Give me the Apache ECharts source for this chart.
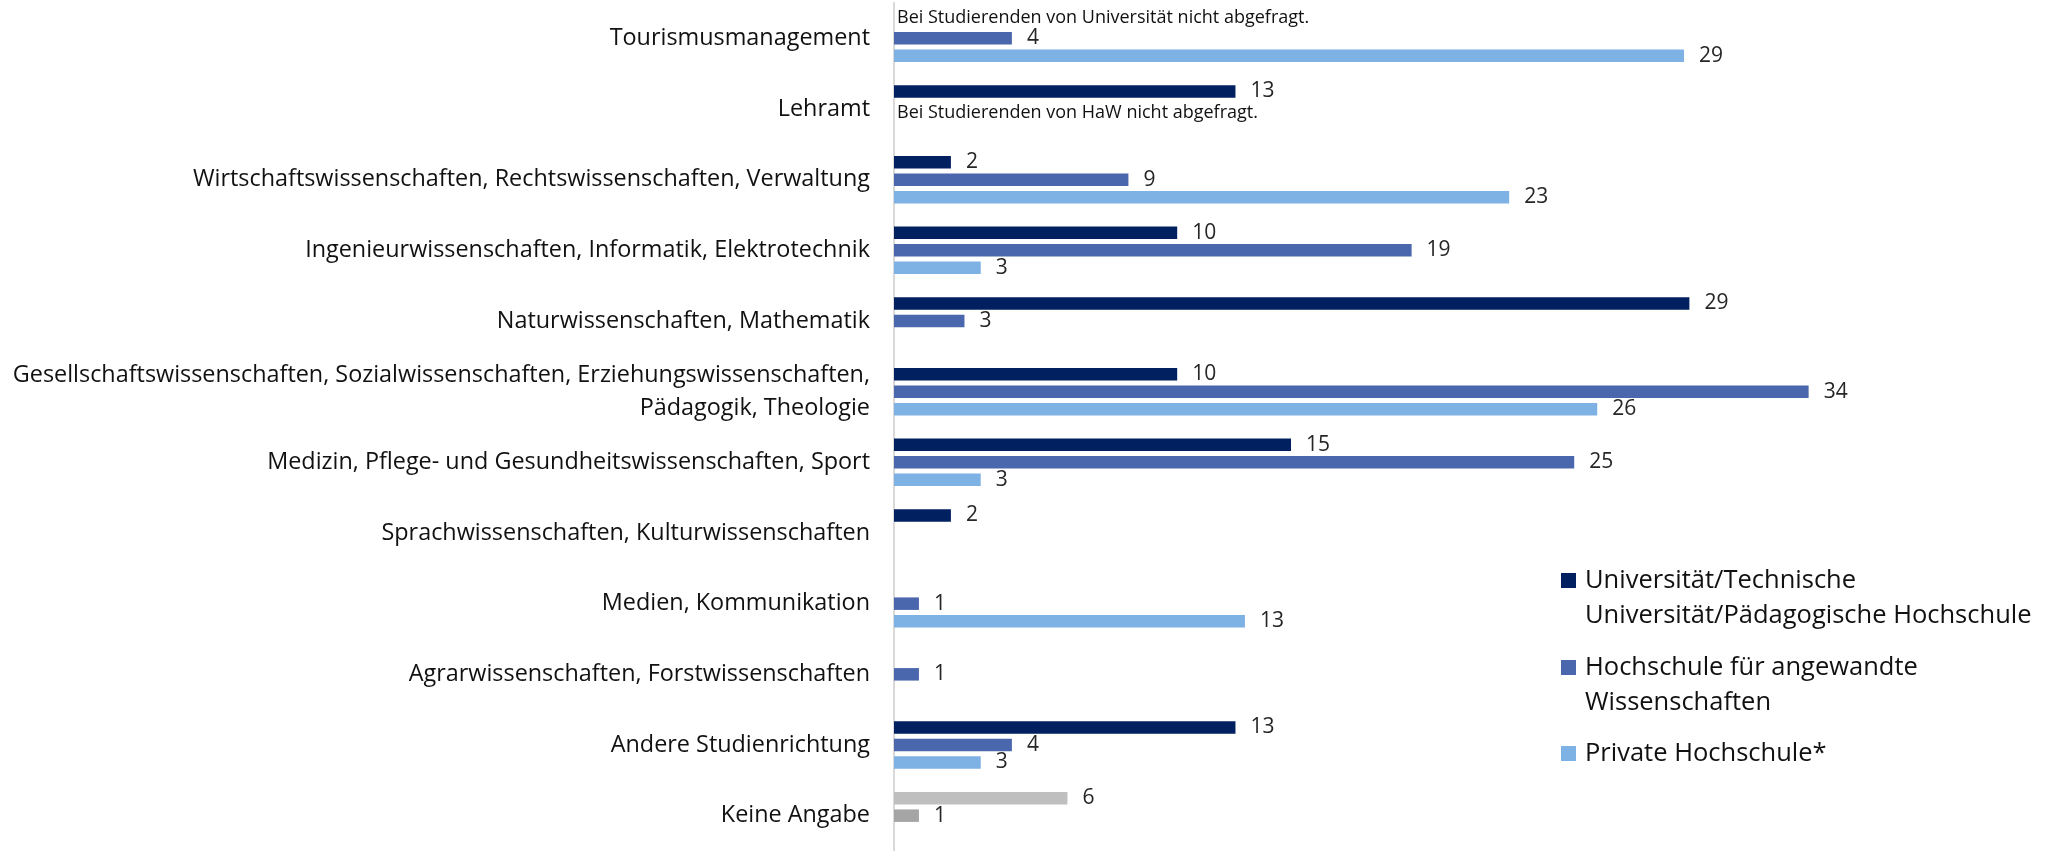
<!DOCTYPE html>
<html lang="de">
    <head>
        <meta charset="UTF-8" />
        <title>Studienrichtung nach Hochschultyp</title>
        <script src="https://cdn.jsdelivr.net/npm/echarts@6/dist/echarts.min.js"></script>
        <style>
            body {
                margin: 0;
                padding: 0;
                background: #fff;
            }

            #chart {
                width: 2048px;
                height: 851px;
            }
        </style>
    </head>
    <body>
        <div id="chart"></div>
        <script>
            const categories = [
                'Tourismusmanagement',
                'Lehramt',
                'Wirtschaftswissenschaften, Rechtswissenschaften, Verwaltung',
                'Ingenieurwissenschaften, Informatik, Elektrotechnik',
                'Naturwissenschaften, Mathematik',
                'Gesellschaftswissenschaften, Sozialwissenschaften, Erziehungswissenschaften,\nPädagogik, Theologie',
                'Medizin, Pflege- und Gesundheitswissenschaften, Sport',
                'Sprachwissenschaften, Kulturwissenschaften',
                'Medien, Kommunikation',
                'Agrarwissenschaften, Forstwissenschaften',
                'Andere Studienrichtung',
                'Keine Angabe'
            ];
            const seriesNames = [
                'Universität/Technische Universität/Pädagogische Hochschule',
                'Hochschule für angewandte Wissenschaften',
                'Private Hochschule*'
            ];
            const legendLabels = [
                'Universität/Technische\nUniversität/Pädagogische Hochschule',
                'Hochschule für angewandte\nWissenschaften',
                'Private Hochschule*'
            ];
            // percentages, one per category without "Keine Angabe"
            // (the labels show them rounded, like the original)
            const uniValues = [null, 12.6, 2.1, 10.45, 29.35, 10.45, 14.65, 2.1, null, null, 12.6];
            const hawValues = [4.35, null, 8.65, 19.1, 2.6, 33.75, 25.1, null, 0.92, 0.92, 4.35];
            const privateValues = [29.15, null, 22.7, 3.2, null, 25.95, 3.2, null, 12.95, null, 3.2];
            // "Keine Angabe" is drawn in grey in the first two slots
            const noAnswerValues = [6.4, 0.92];
            const notAsked = [
                { series: 0, category: 0, text: 'Bei Studierenden von Universität nicht abgefragt.' },
                { series: 1, category: 1, text: 'Bei Studierenden von HaW nicht abgefragt.' }
            ];

            const colors = ['#002060', '#4a66ac', '#7eb1e4'];
            const greys = ['#bfbfbf', '#a5a5a5'];
            const font = 'Open Sans';

            function buildData(values, s) {
                let data = values.map((v) => (v == null ? '-' : v));
                if (s < noAnswerValues.length) {
                    data.push({ value: noAnswerValues[s], itemStyle: { color: greys[s] } });
                } else {
                    data.push('-');
                }
                for (let n of notAsked) {
                    if (n.series === s) {
                        data[n.category] = {
                            value: 0,
                            label: {
                                show: true,
                                position: 'right',
                                distance: 3,
                                offset: n.series === 0 ? [0, -3] : [0, 4],
                                formatter: n.text,
                                fontSize: 18,
                                color: '#111'
                            }
                        };
                    }
                }
                return data;
            }

            let allValues = [uniValues, hawValues, privateValues];
            let series = allValues.map((values, s) => ({
                name: seriesNames[s],
                type: 'bar',
                barWidth: 12.5,
                barGap: '40%',
                itemStyle: { color: colors[s] },
                label: {
                    show: true,
                    position: 'right',
                    distance: 15,
                    fontSize: 21,
                    fontFamily: font,
                    color: '#262626',
                    formatter: (p) => Math.round(p.value)
                },
                data: buildData(values, s)
            }));

            // one legend per entry; a blank first line keeps the square level with the first text line
            let legendTops = [528, 615, 736];
            let legends = seriesNames.map((name, i) => {
                let twoLines = legendLabels[i].indexOf('\n') > 0;
                return {
                    orient: 'vertical',
                    left: 1561,
                    top: legendTops[i],
                    padding: 0,
                    itemWidth: 15,
                    itemHeight: 15,
                    icon: 'rect',
                    selectedMode: false,
                    formatter: () => (twoLines ? ' \n' : '') + legendLabels[i],
                    textStyle: {
                        fontFamily: font,
                        fontSize: 25.5,
                        lineHeight: 35,
                        color: '#111',
                        padding: [0, 0, 0, 4]
                    },
                    data: [name]
                };
            });

            let myChart = echarts.init(document.getElementById('chart'));
            let option = {
                animation: false,
                textStyle: { fontFamily: font },
                legend: legends,
                grid: {
                    left: 894,
                    right: 70,
                    top: 3,
                    bottom: 0,
                    containLabel: false
                },
                xAxis: {
                    type: 'value',
                    min: 0,
                    max: 40,
                    show: false
                },
                yAxis: {
                    type: 'category',
                    inverse: true,
                    data: categories,
                    axisLine: { lineStyle: { color: '#d9d9d9', width: 2 } },
                    axisTick: { inside: true, length: 8, lineStyle: { color: '#d9d9d9', width: 2 } },
                    axisLabel: {
                        fontFamily: font,
                        fontSize: 23.4,
                        lineHeight: 33,
                        color: '#111',
                        margin: 24
                    }
                },
                series: series
            };
            myChart.setOption(option);
        </script>
    </body>
</html>
